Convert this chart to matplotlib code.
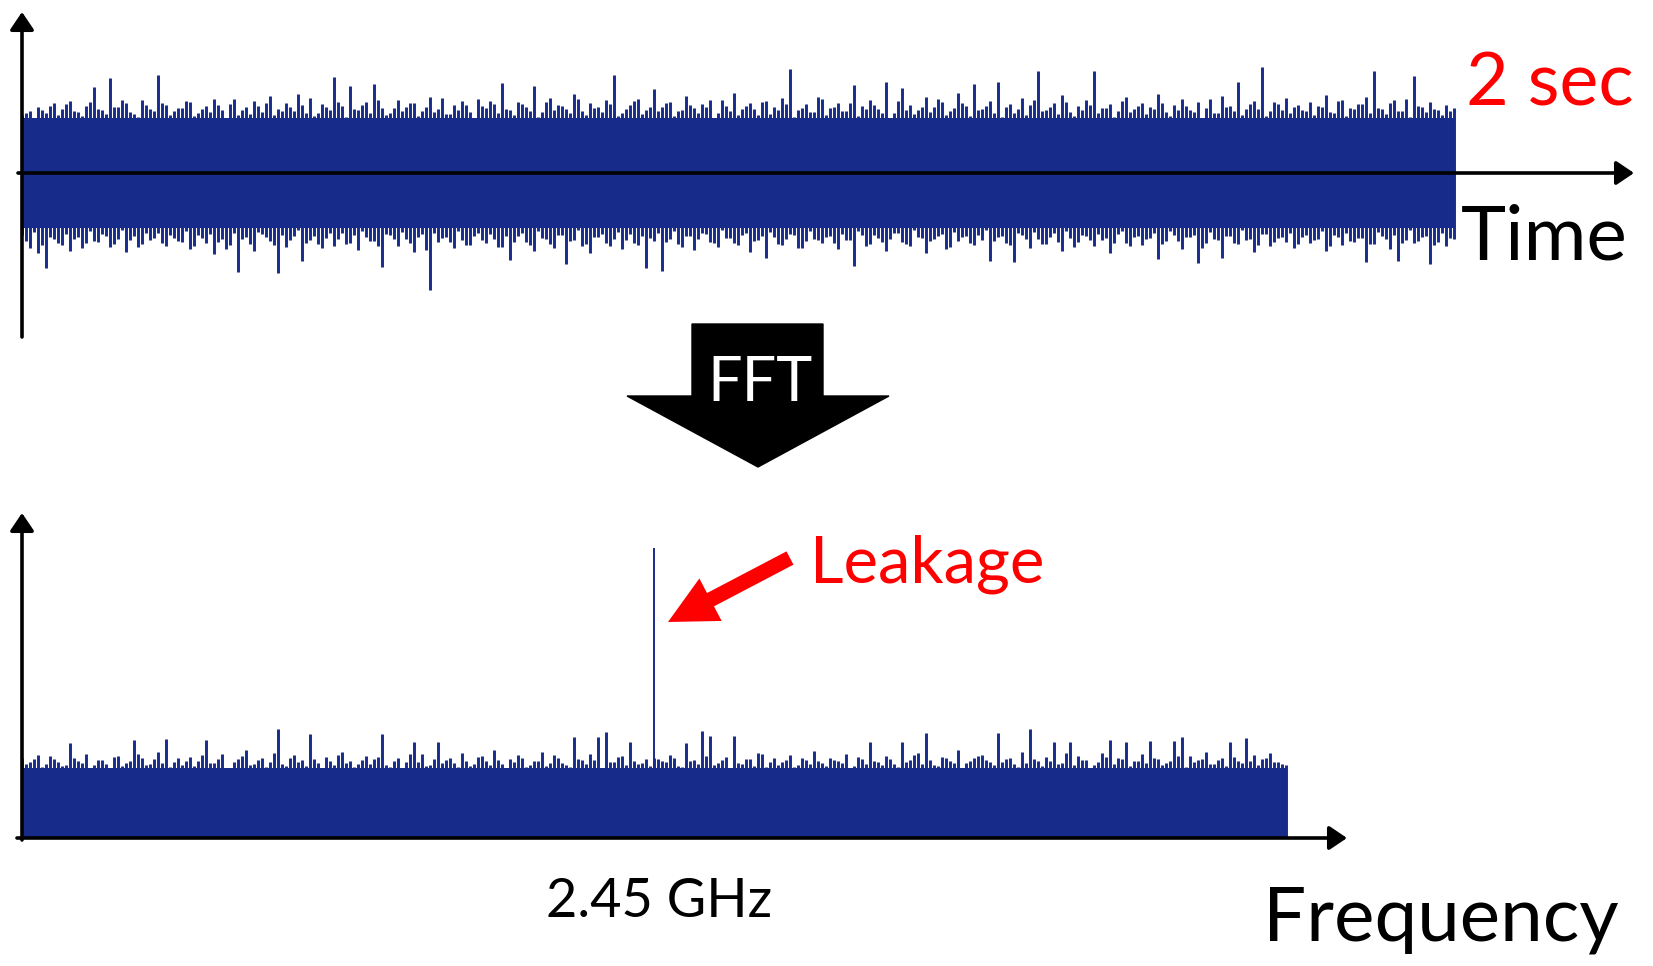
import matplotlib
matplotlib.use('Agg')
import numpy as np
import matplotlib.pyplot as plt
from matplotlib.patches import Polygon, FancyArrow

plt.rcParams['font.family'] = ['Lato', 'DejaVu Sans']

W, H = 1653, 966
NAVY = '#172B8A'

# 时域信号: 每个采样点的上/下包络幅值 (像素单位, 从图上估读)
sig_up = [58, 62, 66, 60, 70, 64, 72, 61, 67, 86, 63, 95, 66, 70, 59, 73, 64, 98, 68, 62,
          65, 71, 60, 67, 74, 63, 69, 58, 66, 72, 61, 77, 64, 70, 62, 68, 75, 60, 66, 96,
          67, 87, 63, 71, 89, 65, 60, 73, 66, 70, 62, 76, 64, 59, 68, 72, 61, 74, 65, 69,
          90, 63, 71, 66, 87, 61, 75, 68, 64, 79, 62, 70, 66, 73, 98, 60, 68, 74, 63, 84,
          66, 71, 62, 77, 65, 69, 73, 60, 67, 80, 64, 70, 58, 72, 66, 75, 104, 63, 69, 61,
          74, 65, 70, 62, 88, 67, 73, 64, 91, 60, 85, 68, 63, 76, 66, 71, 62, 80, 67, 89,
          64, 72, 91, 66, 60, 75, 68, 102, 63, 70, 78, 61, 67, 73, 102, 65, 69, 62, 76, 64,
          70, 66, 79, 61, 68, 74, 63, 71, 65, 60, 77, 67, 91, 64, 72, 106, 62, 69, 75, 66,
          63, 71, 67, 78, 60, 73, 65, 69, 76, 102, 64, 70, 62, 74, 97, 66, 71, 63, 68, 65]
sig_dn = [62, 75, 80, 95, 66, 72, 78, 64, 70, 68, 61, 74, 66, 79, 63, 71, 67, 60, 73, 65,
          69, 76, 62, 70, 81, 66, 72, 99, 64, 78, 61, 68, 100, 74, 63, 88, 67, 71, 65, 73,
          60, 70, 77, 64, 68, 94, 62, 73, 66, 79, 61, 117, 69, 64, 75, 67, 72, 60, 70, 66,
          74, 87, 63, 69, 78, 65, 71, 62, 91, 67, 73, 80, 64, 70, 66, 76, 61, 72, 95, 68,
          98, 66, 71, 63, 77, 60, 69, 74, 65, 70, 62, 79, 67, 85, 64, 72, 61, 75, 68, 66,
          70, 63, 76, 67, 93, 62, 71, 65, 78, 60, 69, 73, 64, 80, 66, 61, 74, 68, 63, 72,
          67, 88, 64, 70, 89, 62, 75, 66, 71, 60, 78, 65, 69, 63, 73, 67, 80, 61, 70, 64,
          72, 65, 86, 68, 62, 76, 64, 90, 70, 66, 85, 63, 71, 67, 79, 61, 73, 65, 69, 75,
          64, 70, 66, 78, 62, 72, 68, 65, 89, 71, 63, 76, 88, 67, 70, 64, 91, 69, 73, 66]
# 两个采样点之间的中间采样
sig_up_b = [60, 55, 63, 67, 58, 69, 62, 57, 71, 64, 59, 66, 73, 61, 56, 68, 62, 70, 58, 65,
            72, 57, 64, 61, 68, 55, 74, 63, 59, 67, 70, 58, 62, 66, 79, 60, 57, 69, 63, 71,
            56, 64, 68, 60, 73, 58, 65, 62, 70, 57, 66, 61, 75, 59, 63, 68, 55, 67, 72, 60,
            64, 58, 69, 62, 56, 71, 63, 67, 60, 74, 58, 65, 61, 69, 57, 64, 72, 59, 66, 62,
            70, 57, 63, 68, 60, 66, 55, 73, 62, 58, 67, 64, 71, 59, 63, 69, 56, 65, 61, 76,
            58, 66, 62, 70, 57, 64, 68, 60, 55, 72, 63, 59, 66, 61, 74, 58, 65, 70, 57, 63,
            67, 60, 56, 69, 64, 58, 73, 62, 66, 59, 71, 57, 63, 68, 60, 65, 56, 72, 61, 67,
            59, 64, 70, 57, 63, 67, 61, 55, 74, 60, 66, 62, 58, 69, 64, 57, 71, 63, 60, 68,
            62, 58, 66, 61, 72, 57, 64, 69, 60, 65, 59, 73, 62, 56, 67, 61, 64, 58, 62]
sig_dn_b = [68, 59, 72, 64, 70, 61, 66, 75, 58, 69, 63, 71, 57, 67, 74, 60, 65, 70, 62, 68,
            58, 73, 65, 61, 69, 76, 60, 66, 71, 59, 64, 72, 62, 67, 57, 70, 63, 75, 60, 66,
            71, 62, 58, 68, 73, 61, 66, 59, 70, 64, 77, 60, 65, 69, 58, 72, 63, 67, 61, 74,
            63, 69, 60, 72, 58, 66, 75, 62, 68, 57, 71, 64, 61, 73, 59, 67, 70, 63, 65, 60,
            69, 58, 74, 63, 66, 61, 70, 57, 65, 72, 60, 68, 63, 59, 71, 66, 62, 75, 58, 67,
            64, 70, 61, 67, 58, 73, 62, 69, 66, 60, 71, 57, 65, 68, 63, 76, 59, 64, 70, 62,
            57, 68, 63, 72, 60, 66, 59, 71, 64, 69, 58, 74, 62, 67, 61, 65, 70, 58, 73, 63,
            66, 60, 71, 58, 68, 64, 62, 75, 59, 67, 63, 70, 57, 66, 72, 61, 69, 64, 60, 71,
            62, 67, 58, 73, 64, 60, 69, 65, 71, 59, 66, 62, 70, 57, 68, 63, 72, 60, 65]
sig_core = 55
duration = 2.0  # 秒

# 频谱: 2.40 ~ 2.50 GHz 噪声底 + 2.45 GHz 泄漏
spec = [80, 76, 83, 74, 79, 72, 95, 77, 84, 73, 78, 70, 82, 75, 98, 80, 74, 86, 99, 76,
        73, 81, 77, 98, 75, 84, 70, 79, 88, 74, 80, 76, 109, 72, 83, 78, 104, 75, 81, 73,
        86, 77, 74, 82, 79, 104, 71, 80, 76, 96, 84, 73, 96, 78, 75, 85, 72, 81, 77, 88,
        74, 79, 83, 71, 77, 86, 75, 80, 73, 101, 78, 84, 101, 106, 76, 82, 96, 74, 79, 80,
        77, 83, 72, 95, 78, 107, 102, 75, 81, 102, 74, 79, 85, 71, 80, 76, 83, 73, 78, 87,
        75, 80, 77, 84, 72, 79, 96, 76, 82, 74, 96, 78, 85, 105, 73, 81, 77, 88, 75, 80,
        83, 76, 105, 79, 74, 86, 109, 77, 81, 96, 75, 96, 82, 78, 73, 85, 98, 80, 96, 77,
        84, 97, 79, 75, 97, 101, 82, 78, 86, 74, 80, 96, 77, 100, 83, 79, 85, 76, 73]
spec_b = [74, 79, 71, 82, 76, 73, 80, 75, 70, 78, 74, 81, 72, 77, 84, 73, 79, 75, 71, 80,
          77, 72, 83, 75, 79, 70, 76, 82, 73, 78, 71, 85, 74, 80, 76, 72, 79, 70, 77, 83,
          75, 71, 78, 74, 81, 73, 77, 70, 84, 76, 72, 79, 75, 80, 71, 77, 74, 82, 73, 78,
          70, 76, 80, 73, 77, 72, 83, 75, 71, 79, 74, 78, 70, 76, 81, 73, 77, 75, 72, 79,
          76, 80, 71, 77, 74, 82, 73, 78, 70, 75, 79, 72, 84, 76, 73, 78, 71, 80, 74, 77,
          72, 78, 75, 70, 81, 74, 77, 73, 79, 71, 76, 83, 74, 78, 72, 80, 75, 70, 77, 82,
          78, 73, 76, 80, 71, 75, 79, 72, 77, 74, 85, 73, 78, 70, 76, 81, 74, 79, 72, 77,
          75, 80, 73, 77, 82, 71, 76, 79, 74, 78, 72, 81, 75, 77, 73, 80, 76, 74]
spec_core = 70
f_lo, f_hi = 2.40, 2.50
leak_f = 2.45
leak_h = 290

fig = plt.figure(figsize=(W / 100, H / 100), dpi=100)

# ---- 时域 ----
t = np.linspace(0, duration, len(sig_up))
t_b = (t[:-1] + t[1:]) / 2
px_per_s = 1432 / duration
ax1 = fig.add_axes([0, 0, 1, 1])
ax1.set_xlim(-22 / px_per_s, (W - 22) / px_per_s)
ax1.set_ylim(-(H - 173), 173)
ax1.axis('off')
ax1.fill_between([0, duration], -sig_core, sig_core, color=NAVY, lw=0)
ax1.vlines(t_b, -np.array(sig_dn_b), np.array(sig_up_b), color=NAVY, lw=2.1)
ax1.vlines(t, -np.array(sig_dn), np.array(sig_up), color=NAVY, lw=2.1)
arr = dict(arrowstyle='-|>,head_length=0.4,head_width=0.27', color='black',
           lw=2.6, mutation_scale=27, shrinkA=0, shrinkB=0)
ax1.annotate('', xy=(1612 / px_per_s, 0), xytext=(-4 / px_per_s, 0), arrowprops=arr)
ax1.annotate('', xy=(0, 161), xytext=(0, -164), arrowprops=arr)

# ---- 频域 ----
f = np.linspace(f_lo, f_hi, len(spec))
f_b = (f[:-1] + f[1:]) / 2
px_per_g = 1264 / (f_hi - f_lo)
ax2 = fig.add_axes([0, 0, 1, 1])
ax2.set_xlim(f_lo - 22 / px_per_g, f_lo + (W - 22) / px_per_g)
ax2.set_ylim(-(H - 838), 838)
ax2.axis('off')
ax2.fill_between([f_lo, f_hi], 0, spec_core, color=NAVY, lw=0)
ax2.vlines(f_b, 0, spec_b, color=NAVY, lw=2.1)
ax2.vlines(f, 0, spec, color=NAVY, lw=2.1)
ax2.vlines(leak_f, 0, leak_h, color=NAVY, lw=1.4)
ax2.annotate('', xy=(f_lo + 1325 / px_per_g, 0), xytext=(f_lo - 5 / px_per_g, 0), arrowprops=arr)
ax2.annotate('', xy=(f_lo, 325), xytext=(f_lo, -2), arrowprops=arr)

# ---- 标注层 (像素坐标) ----
ax0 = fig.add_axes([0, 0, 1, 1])
ax0.set_xlim(0, W)
ax0.set_ylim(H, 0)
ax0.axis('off')
ax0.add_patch(Polygon([(692, 324), (823, 324), (823, 396), (889, 396), (758, 467),
                       (627, 396), (692, 396)], closed=True, color='black'))
ax0.add_patch(FancyArrow(790, 558, -122, 64, width=15, head_width=48, head_length=48,
                         length_includes_head=True, color='red', lw=0))
ax0.text(760, 401, 'FFT', color='white', fontsize=44, ha='center', va='baseline')
ax0.text(1466, 105, '2 sec', color='red', fontsize=53, va='baseline')
ax0.text(1461, 260, 'Time', color='black', fontsize=55, va='baseline')
ax0.text(810, 582, 'Leakage', color='red', fontsize=47, va='baseline')
ax0.text(659, 917, '2.45 GHz', color='black', fontsize=39, ha='center', va='baseline')
ax0.text(1263, 940, 'Frequency', color='black', fontsize=55, va='baseline')

plt.savefig('out.png', dpi=100)
